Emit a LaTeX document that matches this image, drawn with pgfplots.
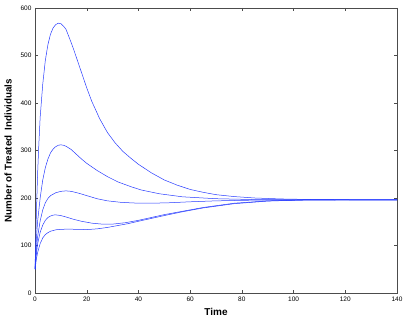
\documentclass[border=0pt]{standalone}
\usepackage{pgfplots}
\pgfplotsset{compat=1.18}
\usepackage{fontspec}
\setmainfont{Liberation Sans}
\pgfplotsset{curve/.style={color={rgb,255:red,40;green,60;blue,255}, line width=0.5pt, mark=none}}
\begin{document}
\begin{tikzpicture}
\path (-35pt,-27pt) rectangle (372pt,293pt);
\begin{axis}[
  scale only axis, width=362pt, height=285pt,
  xmin=0, xmax=140, ymin=0, ymax=600,
  xtick={0,20,...,140}, ytick={0,100,...,600},
  tick align=inside, tick pos=both,
  major tick length=3pt,
  tick style={black!70, line width=0.4pt},
  axis line style={black!70, line width=0.5pt},
  ticklabel style={font=\fontsize{6.5}{7}\selectfont},
  /pgf/number format/assume math mode=true,
  xlabel={\bfseries Time}, xlabel style={font=\fontsize{10}{11}\selectfont},
  xlabel shift=0pt,
  ylabel={\bfseries Number of Treated\ \ Individuals}, ylabel style={font=\fontsize{9.8}{10}\selectfont},
  ylabel shift=2pt,
]
\addplot[curve] coordinates {(0,50) (0.5,160) (1,250) (1.5,315) (2,370) (3,440) (4,490) (5,523) (6,545) (7,558) (8,565) (9,568) (10,567) (11,562) (12,555) (14,527) (15,512) (17,480) (20,432) (22,403) (25,367) (28,338) (31,316) (34,298) (37,284) (40,271) (45,253) (50,238) (55,227) (60,218) (65,212) (70,207) (77,203) (85,200) (95,198) (110,196.5) (140,196)};
\addplot[curve] coordinates {(0,50) (0.5,110) (1,150) (2,200) (3,238) (4,264) (5,282) (6,295) (7,303) (8,308) (9,311) (10,312) (11,311) (12,309) (14,302) (16,292) (18,282) (20,273) (24,258) (28,245) (32,234) (37,224) (41,217) (48,209) (57,202.5) (70,198.5) (85,196.7) (140,196)};
\addplot[curve] coordinates {(0,50) (0.5,90) (1,118) (2,152) (3,175) (4,190) (5,199) (6,205) (8,211) (10,214) (12,215) (14,214) (17,210) (20,205) (24,198.5) (28,194) (33,191) (38,189.5) (45,189) (52,190) (60,192) (70,194) (85,195.5) (140,196)};
\addplot[curve] coordinates {(0,50) (0.5,80) (1,103) (2,128) (3,143) (4,153) (5,159) (6,162) (7,164) (8,164.5) (10,163) (12,160) (15,155) (18,151) (22,147) (26,145) (30,145) (35,148) (40,153) (45,159) (50,165) (57,172) (65,180) (77,189) (90,194) (105,196) (140,196)};
\addplot[curve] coordinates {(0,50) (0.5,70) (1,85) (2,104) (3,116) (4,123) (5,127) (6,130) (8,133) (10,134) (13,134.5) (16,134) (20,133.5) (24,135) (28,138) (32,142) (36,146) (40,151) (45,157) (50,163) (57,171) (65,179) (77,188) (90,193.5) (105,196) (140,196)};
\end{axis}
\end{tikzpicture}
\end{document}
